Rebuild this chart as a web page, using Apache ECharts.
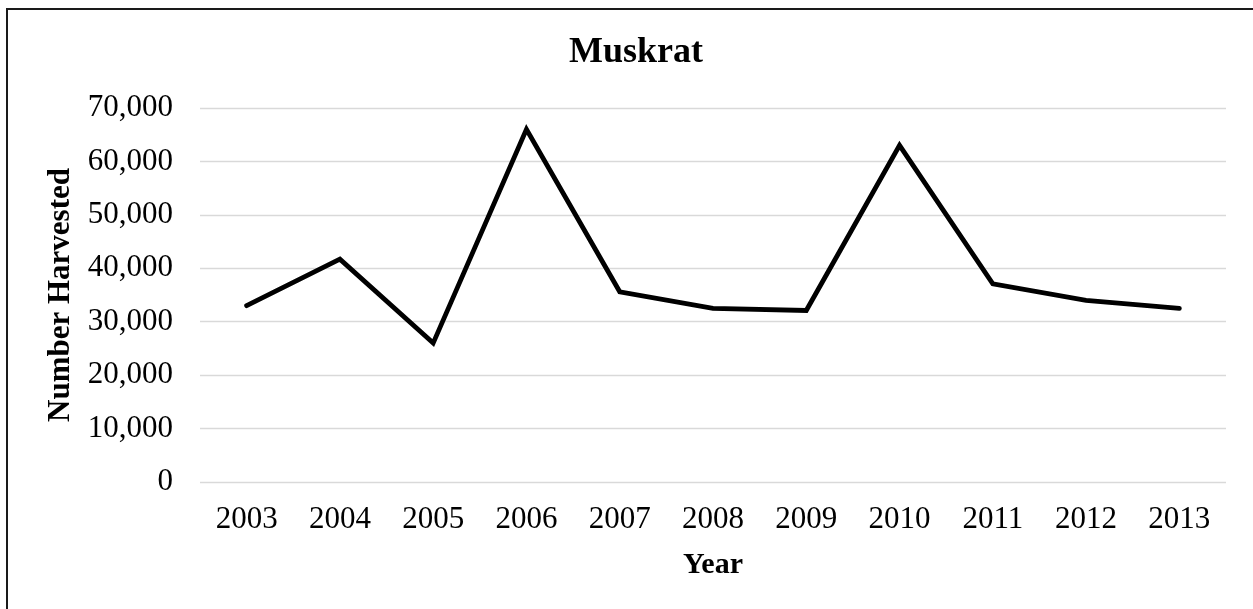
<!DOCTYPE html>
<html>
<head>
<meta charset="utf-8">
<title>Muskrat</title>
<script src="https://cdn.jsdelivr.net/npm/echarts@6/dist/echarts.min.js"></script>
<style>
    html, body { margin: 0; padding: 0; background: #fff; }
    #chart { width: 1253px; height: 609px; }
</style>
</head>
<body>
<div id="chart"></div>
<script>
// Data
const years = ['2003', '2004', '2005', '2006', '2007', '2008', '2009', '2010', '2011', '2012', '2013'];
const harvested = [33000, 41700, 26000, 66000, 35600, 32500, 32100, 63000, 37100, 34000, 32500];
const yTicks = [0, 10000, 20000, 30000, 40000, 50000, 60000, 70000];

const serif = "'Liberation Serif', 'Times New Roman', serif";

document.addEventListener('DOMContentLoaded', () => {
    const chart = echarts.init(document.getElementById('chart'));

    const option = {
        backgroundColor: '#ffffff',
        animation: false,
        title: {
            text: 'Muskrat',
            left: 631,
            top: 30,
            textAlign: 'center',
            textStyle: {
                fontFamily: serif,
                fontSize: 36,
                fontWeight: 'bold',
                color: '#000'
            }
        },
        graphic: [{
            type: 'rect',
            shape: { x: 7, y: 9, width: 1320, height: 700 },
            style: { fill: 'none', stroke: '#1a1a1a', lineWidth: 2 },
            silent: true
        }],
        grid: {
            left: 200,
            right: 27,
            top: 108,
            bottom: 127
        },
        xAxis: {
            type: 'category',
            data: years,
            boundaryGap: true,
            name: 'Year',
            nameLocation: 'middle',
            nameGap: 68,
            nameTextStyle: {
                fontFamily: serif,
                fontSize: 30,
                fontWeight: 'bold',
                color: '#000'
            },
            axisLine: { show: false },
            axisTick: { show: false },
            axisLabel: {
                margin: 22,
                fontFamily: serif,
                fontSize: 31,
                color: '#000'
            }
        },
        yAxis: {
            type: 'value',
            min: yTicks[0],
            max: yTicks[yTicks.length - 1],
            interval: yTicks[1] - yTicks[0],
            name: 'Number Harvested',
            nameLocation: 'middle',
            nameGap: 124,
            nameRotate: 90,
            nameTextStyle: {
                fontFamily: serif,
                fontSize: 31,
                fontWeight: 'bold',
                color: '#000'
            },
            axisLine: { show: false },
            axisTick: { show: false },
            splitLine: {
                lineStyle: { color: '#d9d9d9', width: 1.3 }
            },
            axisLabel: {
                margin: 27,
                fontFamily: serif,
                fontSize: 31,
                color: '#000',
                formatter: v => v.toLocaleString('en-US')
            }
        },
        series: [{
            type: 'line',
            data: harvested,
            showSymbol: false,
            symbol: 'none',
            lineStyle: {
                color: '#000',
                width: 4.8,
                join: 'miter',
                cap: 'round'
            }
        }]
    };

    chart.setOption(option);
});
</script>
</body>
</html>
